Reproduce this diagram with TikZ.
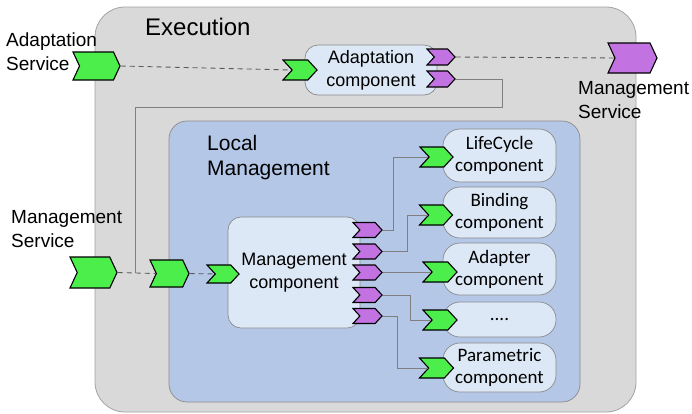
\documentclass[tikz,border=0pt]{standalone}
\usepackage{fontspec}
\setmainfont{Liberation Sans}
\newfontfamily\compfont{Carlito}
\usetikzlibrary{shapes.symbols}

\definecolor{execfill}{HTML}{D9D9D9}
\definecolor{execline}{HTML}{A3A3A3}
\definecolor{localfill}{HTML}{B4C7E7}
\definecolor{boxline}{HTML}{8A8A8A}
\definecolor{compfill}{HTML}{DDE8F6}
\definecolor{portgreen}{HTML}{4CEE4C}
\definecolor{portpurple}{HTML}{C372E2}
\definecolor{wire}{HTML}{7F7F7F}
\definecolor{dashwire}{HTML}{5A5A5A}

\tikzset{
  port/.style={signal, signal to=east, signal from=west, draw=black,
    line width=1.1pt, inner sep=0pt, line join=miter},
  bigport/.style={port, signal pointer angle=130},
  smallport/.style={port, signal pointer angle=95},
  provided/.style={fill=portgreen},
  required/.style={fill=portpurple},
  compbox/.style={draw=boxline, fill=compfill, rounded corners=17pt,
    line width=0.7pt, align=center, inner sep=0pt,
    font=\compfont\fontsize{19}{22}\selectfont},
  corebox/.style={draw=boxline, fill=compfill, rounded corners=13pt,
    line width=0.7pt, align=center, inner sep=0pt,
    font=\fontsize{18}{23}\selectfont},
  svclabel/.style={anchor=west, align=left, inner sep=0pt,
    font=\fontsize{19}{24}\selectfont},
  wireline/.style={draw=wire, line width=0.8pt},
  dashline/.style={draw=dashwire, line width=0.9pt, dash pattern=on 5pt off 4pt},
}

\begin{document}
\begin{tikzpicture}[x=1pt,y=-1pt]
\useasboundingbox (0,0) rectangle (692,413);

% containers
\node[draw=execline, fill=execfill, rounded corners=30pt, line width=0.8pt,
  minimum width=541pt, minimum height=405pt, inner sep=0pt] (exec) at (365.5,209.5) {};
\node[anchor=west, inner sep=0pt, font=\fontsize{24}{28}\selectfont] (execlbl) at (145,26.5) {Execution};

\node[draw=boxline, fill=localfill, rounded corners=18pt, line width=0.7pt,
  minimum width=411pt, minimum height=281pt, inner sep=0pt] (local) at (374.5,261.5) {};
\node[anchor=west, align=left, inner sep=0pt, font=\fontsize{21}{25}\selectfont]
  (locallbl) at (207,158) {Local\\Management};

% adaptation component
\node[corebox, minimum width=132pt, minimum height=50pt] (adapt) at (371,70) {Adaptation\\component};
\node[smallport, provided, minimum width=34pt, minimum height=20pt] (ain) at (300,70) {};
\node[smallport, required, minimum width=28pt, minimum height=16pt] (ap1) at (441,57) {};
\node[smallport, required, minimum width=28pt, minimum height=16pt] (ap2) at (441,79) {};

% management component
\node[corebox, minimum width=132pt, minimum height=111pt] (mgmt) at (294,272.5) {Management\\component};
\node[smallport, provided, minimum width=32pt, minimum height=18pt] (mcin) at (223,274) {};
\foreach \i/\y in {1/230,2/251.5,3/272.5,4/295,5/316}
  \node[smallport, required, minimum width=29pt, minimum height=15pt] (mp\i) at (367.5,\y) {};

% managed components
\node[compbox, minimum width=113pt, minimum height=53pt] (lc) at (499.5,155.5) {LifeCycle\\component};
\node[compbox, minimum width=113pt, minimum height=51pt] (bind) at (499.5,212.5) {Binding\\component};
\node[compbox, minimum width=113pt, minimum height=52pt] (adpt) at (499.5,269) {Adapter\\component};
\node[compbox, minimum width=113pt, minimum height=35pt] (dots) at (499.5,319.5) {....};
\node[compbox, minimum width=113pt, minimum height=49pt] (param) at (499.5,367.5) {Parametric\\component};

\node[smallport, provided, minimum width=33pt, minimum height=20pt] (glc) at (436.5,157) {};
\node[smallport, provided, minimum width=33pt, minimum height=20pt] (gbind) at (436,215) {};
\node[smallport, provided, minimum width=34pt, minimum height=20pt] (gadpt) at (440,272) {};
\node[smallport, provided, minimum width=34pt, minimum height=20pt] (gdots) at (440,320) {};
\node[smallport, provided, minimum width=34pt, minimum height=20pt] (gparam) at (436.5,368) {};

% external services
\node[bigport, provided, minimum width=47pt, minimum height=28pt] (asvc) at (96.5,66) {};
\node[svclabel] (asvclbl) at (6,51.5) {Adaptation\\Service};
\node[bigport, required, minimum width=49pt, minimum height=30pt] (msvcr) at (632.5,58) {};
\node[svclabel] (msvcrlbl) at (578,100) {Management\\Service};
\node[bigport, provided, minimum width=47pt, minimum height=31pt] (msvcl) at (93.5,272.5) {};
\node[svclabel] (msvcllbl) at (11,229) {Management\\Service};
\node[bigport, provided, minimum width=39pt, minimum height=27pt] (lmin) at (169.5,273.5) {};

% connectors
\coordinate (loopR) at (502,107);
\coordinate (loopL) at (135,107);
\draw[dashline] (asvc.east) -- (ain.west);
\draw[dashline] (ap1.east) -- (msvcr.west);
\draw[wireline] (ap2.east) -| (loopR) -- (loopL) -- (loopL |- msvcl.east);
\draw[dashline] (msvcl.east) -- (lmin.west);
\draw[dashline] (lmin.east) -- (mcin.west);

\draw[wireline] (mp1.east) -- ++(11,0) |- (glc.west);
\draw[wireline] (mp2.east) -- ++(25,0) |- (gbind.west);
\draw[wireline] (mp3.east) -- ++(18,0) |- (gadpt.west);
\draw[wireline] (mp4.east) -- ++(28,0) |- (gdots.west);
\draw[wireline] (mp5.east) -- ++(15,0) |- (gparam.west);
\end{tikzpicture}
\end{document}
